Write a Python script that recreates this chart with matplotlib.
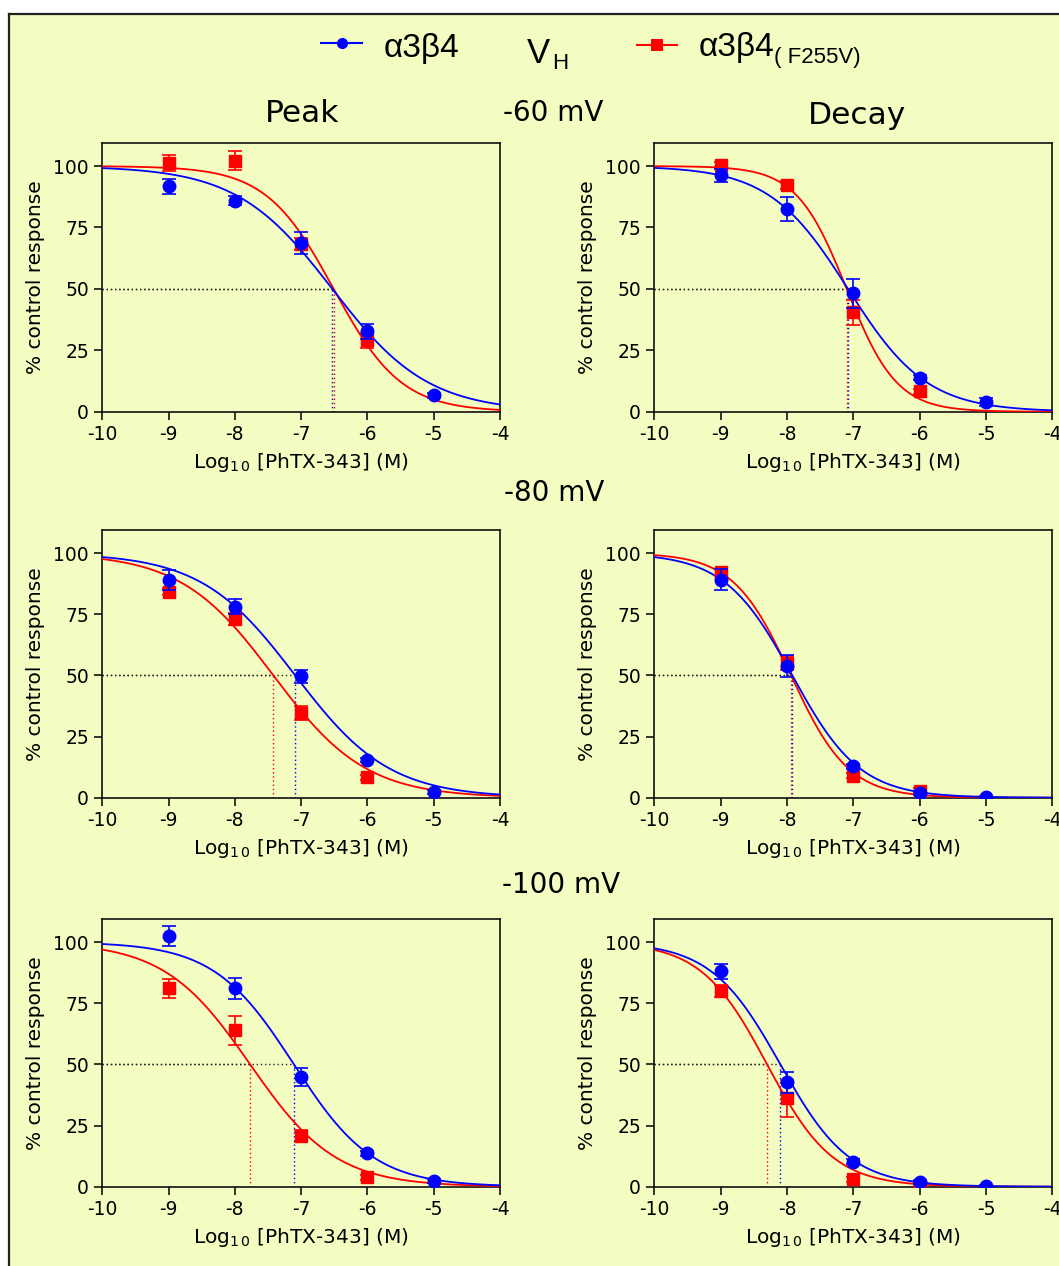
import numpy as np
import matplotlib
matplotlib.use("Agg")
import matplotlib.pyplot as plt
from matplotlib.lines import Line2D
from matplotlib.patches import Rectangle

plt.rcParams['font.family'] = ['DejaVu Sans']
plt.rcParams['mathtext.fontset'] = 'dejavusans'
plt.rcParams['axes.unicode_minus'] = False

# ---------------- data ----------------
log_conc = [-9, -8, -7, -6, -5]
panel_titles = ["Peak", "Decay"]
voltages = ["-60 mV", "-80 mV", "-100 mV"]
x_ticks = [-10, -9, -8, -7, -6, -5, -4]
y_ticks = [0, 25, 50, 75, 100]

# wild type a3b4 (blue) : mean, sem ; order: (-60 peak, -60 decay, -80 peak, -80 decay, -100 peak, -100 decay)
wt_mean = [
    [91.7, 85.9, 68.7, 32.7, 6.7],
    [96.2, 82.4, 48.2, 13.8, 3.9],
    [89.0, 78.1, 49.6, 15.4, 2.4],
    [89.1, 53.8, 12.9, 1.8, 0.1],
    [102.4, 81.0, 44.9, 13.6, 2.4],
    [88.0, 42.7, 10.2, 2.0, 0.1],
]
wt_sem = [
    [3.0, 1.8, 4.3, 3.2, 1.0],
    [2.7, 4.9, 6.0, 1.0, 1.5],
    [4.2, 3.0, 2.6, 1.0, 0.8],
    [4.4, 4.4, 1.0, 0.8, 0.5],
    [4.0, 4.4, 3.7, 1.0, 0.8],
    [3.2, 4.3, 1.0, 0.8, 0.5],
]
# mutant a3b4(F255V) (red)
mut_mean = [
    [101.2, 102.2, 68.4, 29.1, np.nan],
    [100.5, 92.3, 40.4, 8.3, np.nan],
    [84.2, 73.0, 34.6, 8.4, np.nan],
    [92.1, 55.0, 9.0, 2.9, np.nan],
    [81.0, 63.9, 20.7, 3.8, np.nan],
    [80.0, 36.1, 3.1, 0.3, np.nan],
]
mut_sem = [
    [3.4, 3.9, 2.5, 3.0, 0.0],
    [1.0, 1.5, 5.2, 1.0, 0.0],
    [1.5, 2.4, 2.7, 1.0, 0.0],
    [1.5, 3.0, 1.0, 1.0, 0.0],
    [3.7, 6.0, 2.6, 1.0, 0.0],
    [2.4, 7.5, 1.0, 0.5, 0.0],
]
# fitted Hill parameters (log IC50, Hill slope)
wt_logic50 = [-6.53, -7.08, -7.09, -7.92, -7.11, -8.10]
wt_nh = [0.60, 0.73, 0.61, 0.85, 0.72, 0.83]
mut_logic50 = [-6.51, -7.10, -7.42, -7.94, -7.77, -8.30]
mut_nh = [0.85, 1.15, 0.62, 1.00, 0.67, 0.87]

BLUE = '#0000FF'
RED = '#FF0000'
BG = '#F3FCC1'

W, H = 1059, 1266
fig = plt.figure(figsize=(W / 100, H / 100), dpi=100)
fig.patch.set_facecolor('white')

def fx(px):
    return px / W

def fy(py):
    return 1 - py / H

# background panel with frame on left and top
bg = Rectangle((fx(9), 0), 1.0, fy(14), transform=fig.transFigure,
               facecolor=BG, edgecolor='none', zorder=-10)
fig.add_artist(bg)
fig.add_artist(Line2D([fx(9), fx(9)], [0, fy(14)], color='#222222', lw=1.6,
                      transform=fig.transFigure, zorder=-5))
fig.add_artist(Line2D([fx(9), 1.0], [fy(14), fy(14)], color='#222222', lw=1.6,
                      transform=fig.transFigure, zorder=-5))

col_x = [(102.3, 500.0), (654.3, 1052.3)]
row_y = [(143.0, 411.7), (530.0, 797.7), (919.0, 1186.7)]

def hill(x, logic50, nh):
    return 100.0 / (1.0 + 10 ** ((x - logic50) * nh))

xs = np.linspace(-10, -4, 400)

for r in range(3):
    for c in range(2):
        i = r * 2 + c
        x0, x1 = col_x[c]
        yt, yb = row_y[r]
        ax = fig.add_axes([fx(x0), fy(yb), (x1 - x0) / W, (yb - yt) / H])
        ax.set_zorder(1)
        ax.set_facecolor(BG)
        ax.set_xlim(-10, -4)
        ax.set_ylim(0, 109.4)
        ax.set_xticks(x_ticks)
        ax.set_yticks(y_ticks)
        ax.tick_params(direction='out', length=5.5, width=1.1, labelsize=13.5, pad=4)
        for s in ax.spines.values():
            s.set_linewidth(1.2)
            s.set_color('#111111')
        ax.set_ylabel('% control response', fontsize=14.5, labelpad=6)
        ax.set_xlabel('Log$_{1\\,0}$ [PhTX-343] (M)', fontsize=14.5, labelpad=5)

        # dotted IC50 guides
        for lic, col in ((mut_logic50[i], RED), (wt_logic50[i], BLUE)):
            ax.plot([-10, lic], [50, 50], color='#222222', lw=1.0, ls=(0, (1, 2)), zorder=2)
            ax.plot([lic, lic], [0, 50], color=col, lw=1.0, ls=(0, (1, 2)), zorder=2)

        # fitted curves
        ax.plot(xs, hill(xs, mut_logic50[i], mut_nh[i]), color=RED, lw=1.3, zorder=3)
        ax.plot(xs, hill(xs, wt_logic50[i], wt_nh[i]), color=BLUE, lw=1.3, zorder=3)

        # data with error bars
        ax.errorbar(log_conc, mut_mean[i], yerr=mut_sem[i], fmt='s', color=RED, ms=8.5,
                    mec=RED, elinewidth=1.2, capsize=5, capthick=1.2, zorder=4)
        ax.errorbar(log_conc, wt_mean[i], yerr=wt_sem[i], fmt='o', color=BLUE, ms=9,
                    mec=BLUE, elinewidth=1.2, capsize=5, capthick=1.2, zorder=5)

# column titles and voltage labels
fig.text(fx(302), fy(113), panel_titles[0], fontsize=22.5, ha='center', va='center')
fig.text(fx(857), fy(115), panel_titles[1], fontsize=22.5, ha='center', va='center')
vy = [113, 493, 885]
vx = [553, 554, 561]
for v, x, y in zip(voltages, vx, vy):
    fig.text(fx(x), fy(y), v, fontsize=20, ha='center', va='center')

# legend
LS = ['Liberation Sans', 'DejaVu Sans']
fig.add_artist(Line2D([fx(321), fx(341.5), fx(362)], [fy(43)] * 3, color=BLUE, lw=1.5,
                      marker='o', markevery=[1], ms=8, mew=0, transform=fig.transFigure))
fig.add_artist(Line2D([fx(637), fx(657), fx(677)], [fy(45)] * 3, color=RED, lw=1.5,
                      marker='s', markevery=[1], ms=8.5, mew=0, transform=fig.transFigure))
fig.text(fx(384), fy(57), 'α3β4', fontsize=24, family=LS, ha='left', va='baseline')
fig.text(fx(527), fy(63), 'V', fontsize=25, family=LS, ha='left', va='baseline')
fig.text(fx(552), fy(69), 'H', fontsize=16, family=LS, ha='left', va='baseline')
fig.text(fx(699), fy(56), 'α3β4', fontsize=24, family=LS, ha='left', va='baseline')
fig.text(fx(774), fy(63), '( F255V)', fontsize=16, family=LS, ha='left', va='baseline')

fig.savefig('out.png', dpi=100, facecolor=fig.get_facecolor())
